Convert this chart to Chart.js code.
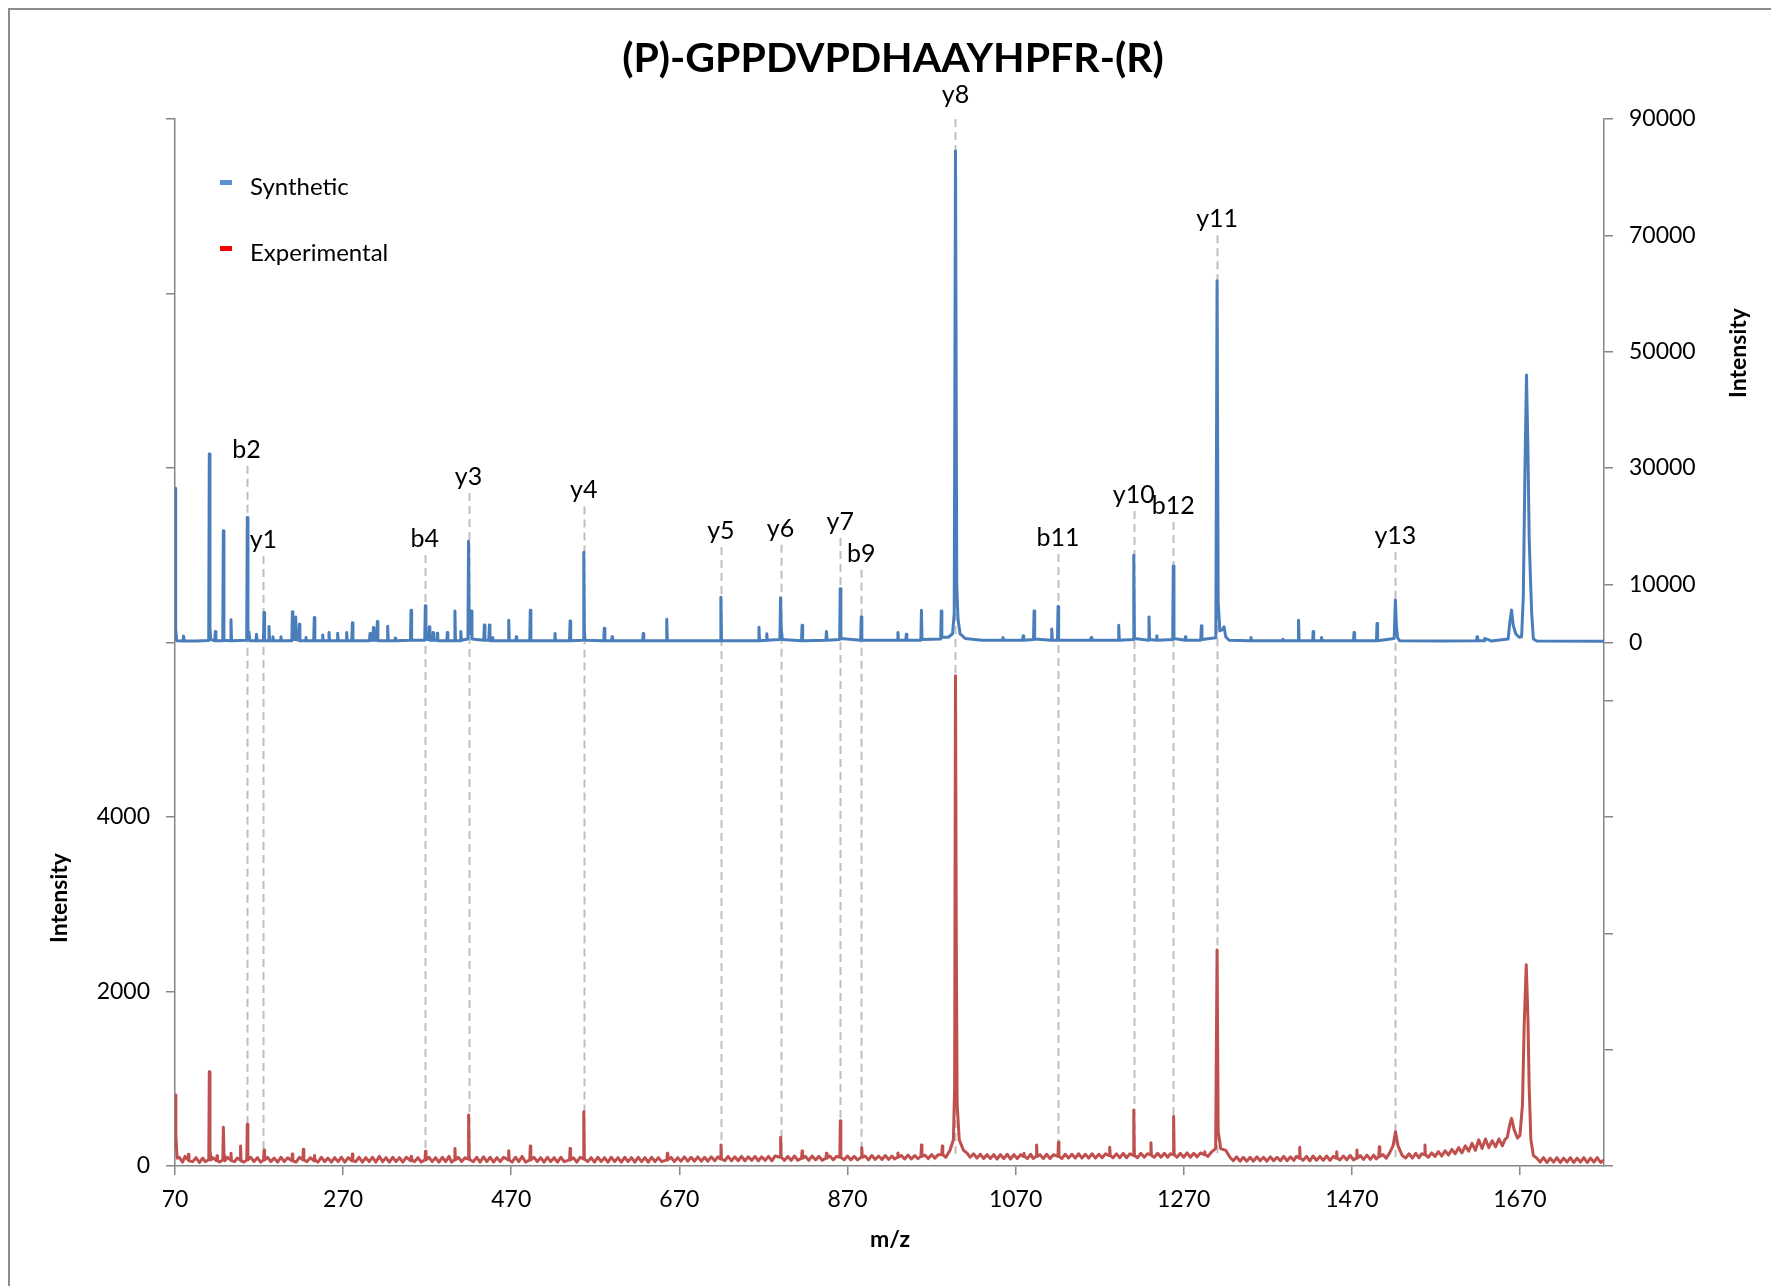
<!DOCTYPE html>
<html>
<head>
<meta charset="utf-8">
<script src="https://cdn.jsdelivr.net/npm/chart.js@4.4.1/dist/chart.umd.min.js"></script>
<style>
  body { margin: 0; background: #fff; }
  #wrap { width: 1771px; height: 1286px; }
</style>
</head>
<body>
<div id="wrap"><canvas id="myChart" width="1771" height="1286"></canvas></div>
<script>
// m/z ticks and the two intensity axes
const xTicks = [70, 270, 470, 670, 870, 1070, 1270, 1470, 1670]
const leftTicks = [0, 2000, 4000, 6000, 8000, 10000, 12000]
const rightTicks = [-90000, -70000, -50000, -30000, -10000, 0, 10000, 30000, 50000, 70000, 90000]

// fragment ions: name, m/z, top of the dashed marker (synthetic intensity units)
const ionNames = ['b2', 'y1', 'b4', 'y3', 'y4', 'y5', 'y6', 'y7', 'b9', 'y8', 'b11', 'y10', 'b12', 'y11', 'y13']
const ionMz = [155.1, 175.1, 367.2, 419.2, 556.3, 719.4, 790.4, 861.4, 886.4, 998.5, 1120.5, 1210.6, 1257.6, 1309.7, 1521.8]
const ionTop = [30400, 14850, 15050, 25700, 23400, 16400, 16800, 17960, 12500, 90000, 15200, 22600, 20700, 70000, 15600]

// synthetic spectrum [m/z, intensity] (right axis)
const synthetic = [
  [70, 26500], [70.8, 2400], [72, 300], [79.5, 250], [80.2, 1100], [81, 250], [95, 250],
  [110.1, 350], [110.8, 32400], [111.6, 2500], [112.6, 500], [117.3, 300], [118, 1900], [118.7, 300],
  [126.8, 300], [127.5, 19200], [128.2, 400], [135.9, 300], [136.6, 3900], [137.3, 300],
  [155.3, 400], [156, 21500], [156.8, 1300], [158, 1800], [159, 300],
  [166.3, 300], [167, 1400], [167.7, 300], [175.2, 300], [175.9, 5150], [176.6, 300],
  [181.1, 300], [181.8, 2750], [182.5, 300], [185.8, 300], [186.5, 1000], [187.2, 300],
  [195.3, 300], [196, 1000], [196.7, 300],
  [209, 300], [209.6, 5300], [210.3, 500], [213, 500], [213.6, 4400], [214.3, 500], [217.3, 400], [217.9, 3150], [218.6, 300],
  [225.2, 300], [225.8, 850], [226.4, 300], [235, 300], [235.7, 4300], [236.4, 300],
  [245, 300], [245.7, 1300], [246.4, 300], [252.5, 300], [253.2, 1700], [253.9, 300],
  [262.8, 300], [263.5, 1600], [264.2, 300], [273.5, 300], [274.2, 1700], [274.9, 300],
  [280.3, 300], [281, 3400], [281.7, 300],
  [301.3, 300], [302, 1550], [302.7, 400], [305.4, 400], [306, 2570], [306.7, 400], [310, 400], [310.7, 3600], [311.4, 300],
  [322.3, 300], [323, 2800], [323.7, 300], [331.3, 300], [332, 750], [332.7, 300],
  [350.1, 400], [350.8, 5550], [351.5, 400],
  [367.1, 400], [367.8, 6300], [368.5, 500], [371.8, 500], [372.5, 2700], [373.2, 400], [376.4, 400], [377, 1700], [377.6, 400], [381.4, 400], [382, 1600], [382.6, 300],
  [393.4, 300], [394, 1700], [394.6, 300], [402.3, 300], [403, 5430], [403.7, 300], [409.4, 300], [410, 1900], [410.6, 400],
  [418.5, 600], [419.2, 17400], [420, 2500], [421.5, 1500], [422.5, 5400], [423.3, 600],
  [437.3, 400], [438, 3000], [438.7, 400], [443.3, 400], [444, 3000], [444.7, 300], [447.4, 300], [448, 850], [448.6, 300],
  [466.3, 300], [467, 3830], [467.7, 300], [475.4, 300], [476, 1000], [476.6, 300],
  [492, 300], [492.7, 5550], [493.4, 300], [521.3, 300], [522, 1550], [522.7, 300], [539.3, 300], [540, 3700], [540.7, 300],
  [555.6, 400], [556.3, 15500], [557, 2000], [557.8, 400],
  [580, 300], [580.7, 2460], [581.4, 300], [589.4, 300], [590, 1000], [590.6, 300],
  [626.3, 300], [627, 1550], [627.7, 300], [654.3, 300], [655, 4000], [655.7, 300],
  [700, 300], [718.6, 300], [719.4, 7800], [720.2, 300],
  [764, 300], [764.7, 2630], [765.4, 300], [773.4, 400], [774, 1500], [774.6, 400],
  [789.6, 500], [790.4, 7700], [791.2, 2500], [792.5, 500],
  [815.3, 300], [816, 2970], [816.7, 300], [844.3, 400], [845, 1890], [845.7, 400],
  [860.7, 500], [861.4, 9260], [862.2, 700], [885.7, 400], [886.4, 4400], [887.1, 400],
  [929.3, 400], [930, 1700], [930.7, 400], [939.3, 400], [940, 1400], [940.7, 400],
  [957.3, 400], [958, 5550], [958.7, 500], [980.9, 600], [981.6, 5430], [982.3, 900],
  [990, 900], [995, 1500], [997, 5000], [998.5, 84500], [1000, 10000], [1001.5, 4000], [1004, 1500], [1010, 700],
  [1030, 400], [1054.3, 400], [1055, 860], [1055.7, 400], [1078.3, 400], [1079, 1140], [1079.7, 400],
  [1091.3, 500], [1092, 5430], [1092.7, 600], [1112.3, 400], [1113, 2300], [1113.7, 400],
  [1119.8, 400], [1120.5, 6180], [1121.2, 400], [1159.3, 400], [1160, 860], [1160.7, 400],
  [1192, 400], [1192.7, 2970], [1193.4, 400], [1209.9, 500], [1210.6, 15000], [1211.4, 700],
  [1228, 400], [1228.7, 4400], [1229.4, 500], [1237.4, 400], [1238, 1150], [1238.6, 400],
  [1256.9, 500], [1257.6, 13150], [1258.4, 700], [1271.4, 400], [1272, 970], [1272.6, 400],
  [1290.3, 400], [1291, 2860], [1291.7, 500],
  [1308.2, 800], [1309.7, 62200], [1311, 7000], [1313, 2000], [1316, 2200], [1318, 2700], [1320, 1000], [1324, 400],
  [1349.3, 300], [1350, 860], [1350.7, 300], [1387.4, 300], [1388, 570], [1388.6, 300],
  [1406, 300], [1406.6, 3830], [1407.3, 300], [1423.4, 300], [1424, 1890], [1424.6, 300], [1433.4, 300], [1434, 860], [1434.6, 300],
  [1472, 300], [1472.6, 1700], [1473.3, 300], [1499.3, 300], [1500, 3260], [1500.7, 300],
  [1520.4, 700], [1521.8, 7320], [1523, 3000], [1524.5, 800], [1527, 300],
  [1580, 250], [1618.3, 300], [1619, 970], [1619.7, 300], [1627.5, 300], [1628, 700], [1633, 450], [1636, 250],
  [1656, 600], [1658, 3500], [1660, 5600], [1662, 3000], [1665, 1500], [1669, 900],
  [1672, 1000], [1674, 8000], [1676, 30000], [1677.8, 46000], [1679.5, 33000], [1681, 18000], [1682.5, 11000], [1684, 5000], [1686, 600], [1690, 250],
  [1770, 200]
]

// experimental spectrum, peaks [m/z, intensity] (left axis)
const experimentalPeaks = [
  [70, 814], [71, 355], [72.5, 90], [85.4, 70], [86, 134], [86.6, 60],
  [110.2, 70], [110.8, 1081], [111.6, 175], [113, 70], [119.4, 60], [120, 118], [120.6, 60],
  [126.9, 70], [127.5, 443], [128.3, 150], [129.5, 60], [136, 70], [136.6, 145], [137.2, 60],
  [147.4, 70], [148, 229], [148.6, 60], [155.4, 70], [156, 478], [156.7, 70],
  [175.4, 70], [176, 183], [176.6, 70], [209, 60], [209.6, 137], [210.2, 60],
  [222.1, 70], [222.7, 191], [223.3, 70], [235.4, 60], [236, 120], [236.6, 70],
  [280.4, 60], [281, 137], [281.6, 60], [350.4, 60], [351, 110], [351.6, 70],
  [367.4, 70], [368, 168], [368.6, 70], [402.4, 70], [403, 202], [403.6, 70],
  [418.7, 80], [419.3, 585], [420, 100], [421, 70],
  [466.4, 70], [467, 176], [467.6, 70], [492.1, 70], [492.7, 229], [493.3, 70],
  [539.4, 70], [540, 202], [540.6, 70], [555.7, 80], [556.3, 623], [557, 80],
  [655.1, 70], [655.7, 145], [656.3, 70], [718.9, 80], [719.5, 240], [720.1, 80],
  [789.8, 100], [790.5, 329], [791.2, 100], [815.4, 90], [816, 172], [816.6, 90],
  [844.4, 90], [845, 145], [845.6, 90], [860.9, 100], [861.5, 520], [862.1, 100],
  [886.4, 100], [887, 210], [887.6, 100], [929.4, 100], [930, 150], [930.6, 100],
  [957.4, 110], [958, 240], [958.6, 110], [982.2, 130], [982.8, 229], [983.4, 130],
  [992, 180], [996, 300], [997.5, 900], [998.5, 5620], [999.5, 2500], [1000.5, 700], [1003, 300], [1008, 180],
  [1079.4, 110], [1080, 145], [1080.6, 110], [1094.4, 110], [1095, 240], [1095.6, 110],
  [1120.4, 110], [1121, 271], [1121.6, 110], [1181.4, 120], [1182, 214], [1182.6, 120],
  [1210, 120], [1210.6, 642], [1211.3, 120], [1230.4, 130], [1231, 267], [1231.6, 120],
  [1257.4, 130], [1258, 566], [1258.7, 130], [1294.4, 130], [1295, 164], [1295.6, 130],
  [1308, 200], [1309.7, 2475], [1311, 400], [1314, 200], [1320, 180], [1325, 100],
  [1407.4, 90], [1408, 214], [1408.6, 90], [1451.4, 90], [1452, 164], [1452.6, 90],
  [1475.4, 90], [1476, 183], [1476.6, 90], [1502.1, 110], [1502.7, 221], [1503.3, 110],
  [1515, 150], [1519, 230], [1522, 393], [1525, 230], [1530, 120],
  [1556.4, 130], [1557, 240], [1557.6, 130],
  [1655, 330], [1658, 480], [1660, 546], [1663, 420], [1667, 320], [1670, 350],
  [1673, 700], [1675, 1600], [1677.5, 2306], [1679.5, 1700], [1681, 900], [1683, 300], [1686, 120]
]

// experimental spectrum, baseline noise between the peaks [m/z, intensity]
const experimentalNoise = [
  [75, 100], [79, 45], [82, 110], [91, 50], [95, 95], [99, 40], [103, 90], [106, 50], [115, 95], [123, 45],
  [132, 100], [141, 50], [144, 90], [152, 45], [160, 100], [164, 50], [168, 95], [172, 45], [180, 100], [184, 50],
  [188, 90], [192, 45], [196, 100], [200, 50], [204, 95], [214, 45], [218, 100], [227, 50], [231, 95], [240, 45],
  [244, 100], [248, 50], [252, 90], [256, 45], [260, 95], [264, 50], [268, 100], [272, 45], [276, 95], [285, 50],
  [289, 100], [293, 45], [297, 95], [301, 50], [305, 100], [309, 45], [313, 110], [317, 50], [321, 95], [325, 45],
  [329, 100], [333, 50], [337, 95], [341, 45], [345, 100], [355, 50], [359, 95], [363, 45], [372, 100], [376, 50],
  [380, 95], [384, 45], [388, 100], [392, 50], [396, 110], [399, 45], [407, 100], [411, 50], [415, 95], [425, 50],
  [429, 100], [433, 45], [437, 105], [441, 50], [445, 100], [449, 45], [453, 95], [457, 50], [461, 100], [471, 45],
  [475, 100], [479, 50], [483, 110], [487, 45], [497, 100], [501, 50], [505, 95], [509, 45], [513, 100], [517, 50],
  [521, 95], [525, 45], [529, 100], [533, 50], [544, 95], [548, 45], [552, 100], [561, 50], [565, 95], [569, 45],
  [573, 100], [577, 50], [581, 95], [585, 45], [589, 100], [593, 50], [597, 95], [601, 45], [605, 100], [609, 50],
  [613, 95], [617, 45], [621, 100], [625, 50], [629, 95], [633, 45], [637, 100], [641, 50], [645, 95], [649, 50],
  [660, 100], [664, 50], [668, 95], [672, 55], [676, 105], [680, 55], [684, 100], [688, 55], [692, 105], [696, 55],
  [700, 100], [704, 55], [708, 105], [712, 60], [716, 105], [724, 60], [728, 110], [732, 60], [736, 105], [740, 60],
  [744, 110], [748, 60], [752, 105], [756, 65], [760, 110], [764, 60], [768, 105], [772, 65], [776, 110], [780, 60],
  [784, 115], [795, 65], [799, 110], [803, 65], [807, 115], [811, 65], [820, 110], [824, 65], [828, 115], [832, 70],
  [836, 110], [840, 65], [849, 115], [853, 70], [857, 110], [866, 70], [870, 115], [874, 70], [878, 110], [882, 70],
  [891, 115], [895, 70], [899, 120], [903, 75], [907, 115], [911, 75], [915, 120], [919, 75], [923, 115], [926, 80],
  [934, 120], [938, 80], [942, 125], [946, 80], [950, 120], [954, 85], [962, 125], [966, 85], [970, 130], [974, 90],
  [978, 130], [987, 100],
  [1012, 150], [1016, 100], [1020, 140], [1024, 90], [1028, 135], [1032, 85], [1036, 130], [1040, 85], [1044, 130], [1048, 80],
  [1052, 130], [1056, 85], [1060, 135], [1064, 80], [1068, 130], [1072, 85], [1076, 130], [1084, 85], [1088, 135], [1091, 85],
  [1099, 130], [1103, 85], [1107, 135], [1111, 85], [1115, 130], [1125, 85], [1129, 135], [1133, 90], [1137, 135], [1141, 90],
  [1145, 140], [1149, 90], [1153, 135], [1157, 90], [1161, 140], [1165, 90], [1169, 135], [1173, 95], [1177, 140], [1186, 95],
  [1190, 140], [1194, 95], [1198, 145], [1202, 95], [1206, 140], [1215, 95], [1219, 145], [1223, 100], [1227, 140], [1235, 100],
  [1239, 145], [1243, 100], [1247, 145], [1251, 100], [1254, 140], [1262, 100], [1266, 145], [1270, 100], [1274, 150], [1278, 100],
  [1282, 145], [1286, 105], [1290, 150], [1299, 110], [1303, 160],
  [1329, 60], [1333, 105], [1337, 55], [1341, 100], [1345, 55], [1349, 100], [1353, 55], [1357, 105], [1361, 60], [1365, 100],
  [1369, 55], [1373, 105], [1377, 60], [1381, 100], [1385, 60], [1389, 110], [1393, 60], [1397, 105], [1401, 65], [1404, 110],
  [1412, 65], [1416, 110], [1420, 60], [1424, 115], [1428, 65], [1432, 110], [1436, 65], [1440, 115], [1444, 65], [1448, 110],
  [1456, 70], [1460, 115], [1464, 70], [1468, 120], [1472, 70], [1480, 120], [1484, 75], [1488, 125], [1492, 75], [1496, 125],
  [1499, 80], [1507, 130], [1511, 90], [1534, 90], [1538, 140], [1542, 90], [1546, 145], [1550, 95], [1553, 140], [1561, 100],
  [1565, 150], [1569, 110], [1573, 165], [1577, 115], [1581, 175], [1585, 125], [1589, 190], [1593, 140], [1597, 210], [1601, 150],
  [1605, 230], [1609, 170], [1613, 260], [1617, 180], [1621, 300], [1625, 200], [1629, 310], [1633, 210], [1637, 290], [1641, 220],
  [1645, 310], [1649, 230], [1652, 300],
  [1690, 90], [1694, 45], [1698, 95], [1702, 40], [1706, 90], [1710, 45], [1714, 95], [1718, 40], [1722, 90], [1726, 45],
  [1730, 95], [1734, 40], [1738, 90], [1742, 45], [1746, 95], [1750, 40], [1754, 90], [1758, 45], [1762, 95], [1766, 40],
  [1770, 70]
]

const experimental = experimentalPeaks.concat(experimentalNoise).sort((a, b) => a[0] - b[0])

const FONT = 'Lato, "Open Sans", sans-serif'
const AXIS_GREY = '#868686'

// extra drawing: frame, title, legend, axis titles, ion markers
const decor = {
  id: 'decor',
  beforeDraw(chart) {
    const c = chart.ctx
    c.save()
    c.strokeStyle = '#8c8c8c'
    c.lineWidth = 2
    c.strokeRect(9, 9, 1900, 1500)
    c.restore()
  },
  beforeDatasetsDraw(chart) {
    const c = chart.ctx, x = chart.scales.x, yR = chart.scales.yR, yL = chart.scales.yL
    c.save()
    c.strokeStyle = '#bfbfbf'
    c.lineWidth = 2
    c.setLineDash([8, 5])
    ionMz.forEach((mz, i) => {
      const px = Math.round(x.getPixelForValue(mz)) + 0.5
      c.beginPath()
      c.moveTo(px, yR.getPixelForValue(ionTop[i]))
      c.lineTo(px, yL.getPixelForValue(100))
      c.stroke()
    })
    c.restore()
  },
  afterDatasetsDraw(chart) {
    const c = chart.ctx, x = chart.scales.x, yR = chart.scales.yR
    c.save()
    c.fillStyle = '#000'
    c.textAlign = 'center'
    c.textBaseline = 'middle'
    c.font = '25px ' + FONT
    ionNames.forEach((n, i) => {
      const gap = ionTop[i] >= yR.max ? 24 : 16 // label over the top of the axis sits a bit higher
      c.fillText(n, x.getPixelForValue(ionMz[i]), yR.getPixelForValue(ionTop[i]) - gap)
    })

    // title
    c.font = 'bold 41px ' + FONT
    c.fillText('(P)-GPPDVPDHAAYHPFR-(R)', 893, 59)

    // axis titles
    c.font = 'bold 23px ' + FONT
    c.fillText('m/z', 890, 1240)
    c.save()
    c.translate(60, 898)
    c.rotate(-Math.PI / 2)
    c.fillText('Intensity', 0, 0)
    c.restore()
    c.save()
    c.translate(1739, 353)
    c.rotate(-Math.PI / 2)
    c.fillText('Intensity', 0, 0)
    c.restore()

    // legend
    c.textAlign = 'left'
    c.font = '24px ' + FONT
    c.fillStyle = '#5b8fd6'
    c.fillRect(220, 180, 12, 5)
    c.fillStyle = '#ff0000'
    c.fillRect(220, 246, 12, 5)
    c.fillStyle = '#000'
    c.fillText('Synthetic', 250, 187)
    c.fillText('Experimental', 250, 253)
    c.restore()
  }
}

const tickFont = { family: FONT, size: 23 }
const axisGrid = { drawOnChartArea: false, drawTicks: true, tickLength: 9, color: AXIS_GREY, lineWidth: 1.5 }
const axisBorder = { display: true, color: AXIS_GREY, width: 1.5 }

const ctx = document.getElementById('myChart').getContext('2d')
const myChart = new Chart(ctx, {
  type: 'line',
  data: {
    datasets: [{
      label: 'Synthetic',
      data: synthetic.map(p => ({ x: p[0], y: p[1] })),
      yAxisID: 'yR',
      borderColor: '#4a7ebb',
      borderWidth: 3,
      borderJoinStyle: 'round',
      pointRadius: 0,
      tension: 0
    }, {
      label: 'Experimental',
      data: experimental.map(p => ({ x: p[0], y: p[1] })),
      yAxisID: 'yL',
      borderColor: '#c0504d',
      borderWidth: 3,
      borderJoinStyle: 'round',
      pointRadius: 0,
      tension: 0
    }]
  },
  options: {
    responsive: false,
    animation: false,
    events: [],
    layout: { padding: { top: 119, left: 0, right: 0, bottom: 0 } },
    plugins: { legend: { display: false }, tooltip: { enabled: false } },
    scales: {
      x: {
        type: 'linear', min: 70, max: 1770,
        afterBuildTicks: s => { s.ticks = xTicks.map(v => ({ value: v })) },
        afterFit: s => { s.height = 120 },
        ticks: { font: tickFont, color: '#000', padding: 11, maxRotation: 0, autoSkip: false, callback: v => String(v) },
        grid: axisGrid, border: axisBorder
      },
      yL: {
        position: 'left', min: 0, max: 12000,
        afterBuildTicks: s => { s.ticks = leftTicks.map(v => ({ value: v })) },
        afterFit: s => { s.width = 175 },
        ticks: { font: tickFont, color: '#000', padding: 16, callback: v => (v <= 4000 ? String(v) : '') },
        grid: axisGrid, border: axisBorder
      },
      yR: {
        position: 'right', min: -90000, max: 90000,
        afterBuildTicks: s => { s.ticks = rightTicks.map(v => ({ value: v })) },
        afterFit: s => { s.width = 167 },
        ticks: { font: tickFont, color: '#000', padding: 16, callback: v => (v >= 0 ? String(v) : '') },
        grid: axisGrid, border: axisBorder
      }
    }
  },
  plugins: [decor]
})
</script>
</body>
</html>
